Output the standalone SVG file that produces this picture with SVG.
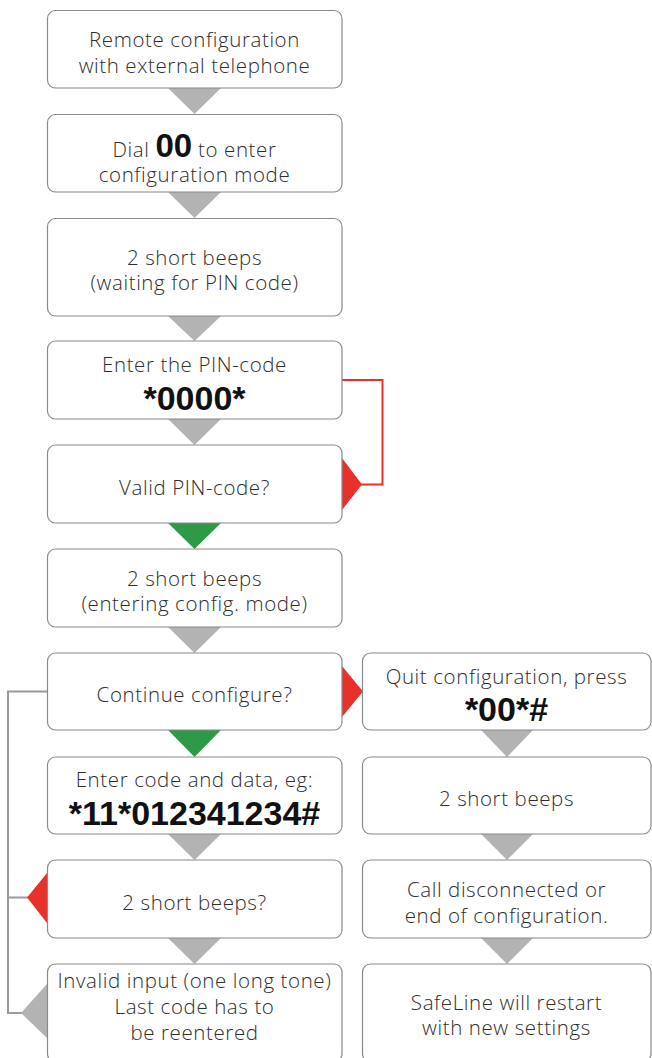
<svg xmlns="http://www.w3.org/2000/svg" width="652" height="1058" viewBox="0 0 652 1058">
<style>
.box{fill:#fff;stroke:#8a8a8a;stroke-width:1.2}
.t{font-family:"Open Sans","Liberation Sans",sans-serif;font-weight:300;font-size:20.5px;fill:#2e2e2e;text-anchor:middle;letter-spacing:0.6px}
.b{font-family:"Liberation Sans",Arial,sans-serif;font-weight:bold;font-size:34px;fill:#111;text-anchor:middle}
.g{fill:#b3b3b3}
.gr{fill:#2e9a48}
.r{fill:#e8312a}
.gl{fill:none;stroke:#9a9a9a;stroke-width:2}
.rl{fill:none;stroke:#e8312a;stroke-width:2}
</style>
<g id="connectors">
<polyline class="rl" points="342,380 382.5,380 382.5,484.5 360,484.5"/>
<polyline class="gl" points="47,691.5 8,691.5 8,1013 22,1013"/>
<line class="gl" x1="8" y1="897.5" x2="28" y2="897.5"/>
<polygon class="g" points="168,88 221,88 194.5,114"/>
<polygon class="g" points="168,192 221,192 194.5,218"/>
<polygon class="g" points="168,316 221,316 194.5,341"/>
<polygon class="g" points="168,419 221,419 194.5,445"/>
<polygon class="gr" points="168,523 221,523 194.5,549"/>
<polygon class="g" points="168,627 221,627 194.5,653"/>
<polygon class="gr" points="168,730 221,730 194.5,757"/>
<polygon class="g" points="168,834 221,834 194.5,860"/>
<polygon class="g" points="168,938 221,938 194.5,964"/>
<polygon class="r" points="342,458 362,484.5 342,510"/>
<polygon class="r" points="342,666 363,691.5 342,717"/>
<polygon class="r" points="47,873 27,897.5 47,923"/>
<polygon class="g" points="47,984 21,1013 47,1038"/>
<polygon class="g" points="481,730 533,730 507,757"/>
<polygon class="g" points="481,834 533,834 507,860"/>
<polygon class="g" points="481,938 533,938 507,964"/>
</g>
<g id="n1"><rect class="box" x="47.5" y="10.5" width="294.5" height="77.5" rx="8"/>
<text class="t" x="194.5" y="47">Remote configuration</text>
<text class="t" x="194.5" y="73">with external telephone</text></g>
<g id="n2"><rect class="box" x="47.5" y="114.5" width="294.5" height="77.5" rx="8"/>
<text class="t" x="194.5" y="157"><tspan>Dial </tspan><tspan style="font-family:'Liberation Sans',Arial,sans-serif;font-weight:bold;font-size:33px;fill:#111;letter-spacing:0">00</tspan><tspan> to enter</tspan></text>
<text class="t" x="194.5" y="182">configuration mode</text></g>
<g id="n3"><rect class="box" x="47.5" y="218.5" width="294.5" height="97.5" rx="8"/>
<text class="t" x="194.5" y="265">2 short beeps</text>
<text class="t" x="194.5" y="290">(waiting for PIN code)</text></g>
<g id="n4"><rect class="box" x="47.5" y="341" width="294.5" height="78" rx="8"/>
<text class="t" x="194.5" y="372">Enter the PIN-code</text>
<text class="b" x="194.5" y="410">*0000*</text></g>
<g id="n5"><rect class="box" x="47.5" y="445" width="294.5" height="78" rx="8"/>
<text class="t" x="194.5" y="495">Valid PIN-code?</text></g>
<g id="n6"><rect class="box" x="47.5" y="549" width="294.5" height="78" rx="8"/>
<text class="t" x="194.5" y="586">2 short beeps</text>
<text class="t" x="194.5" y="611">(entering config. mode)</text></g>
<g id="n7"><rect class="box" x="47.5" y="653" width="294.5" height="77" rx="8"/>
<text class="t" x="194.5" y="702">Continue configure?</text></g>
<g id="n8"><rect class="box" x="47.5" y="757" width="294.5" height="77" rx="8"/>
<text class="t" x="194.5" y="787">Enter code and data, eg:</text>
<text class="b" x="194.5" y="825">*11*012341234#</text></g>
<g id="n9"><rect class="box" x="47.5" y="860" width="294.5" height="78" rx="8"/>
<text class="t" x="194.5" y="910">2 short beeps?</text></g>
<g id="n10"><rect class="box" x="47.5" y="964" width="294.5" height="98" rx="8"/>
<text class="t" x="194.5" y="988">Invalid input (one long tone)</text>
<text class="t" x="194.5" y="1014">Last code has to</text>
<text class="t" x="194.5" y="1040">be reentered</text></g>
<g id="r7"><rect class="box" x="362.5" y="653" width="288.5" height="77" rx="8"/>
<text class="t" x="506.5" y="684">Quit configuration, press</text>
<text class="b" x="506.5" y="721">*00*#</text></g>
<g id="r8"><rect class="box" x="362.5" y="757" width="288.5" height="77" rx="8"/>
<text class="t" x="506.5" y="806">2 short beeps</text></g>
<g id="r9"><rect class="box" x="362.5" y="860" width="288.5" height="78" rx="8"/>
<text class="t" x="506.5" y="897">Call disconnected or</text>
<text class="t" x="506.5" y="923">end of configuration.</text></g>
<g id="r10"><rect class="box" x="362.5" y="964" width="288.5" height="98" rx="8"/>
<text class="t" x="506.5" y="1010">SafeLine will restart</text>
<text class="t" x="506.5" y="1035">with new settings</text></g>
</svg>
